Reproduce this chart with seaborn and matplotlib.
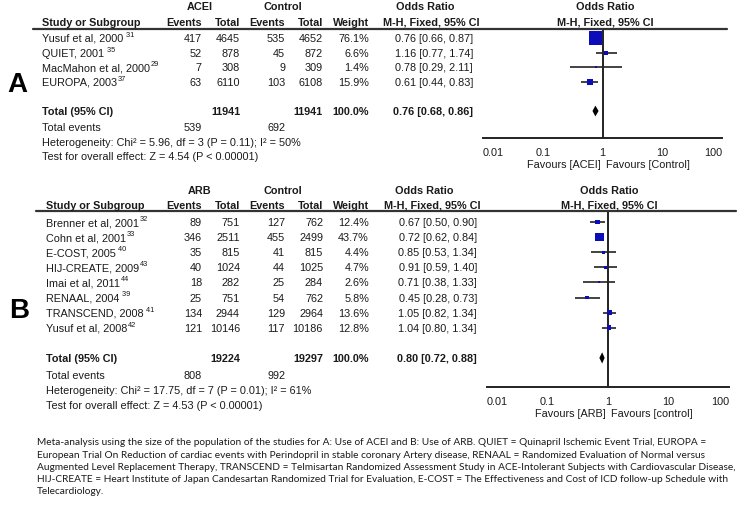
import numpy as np
import pandas as pd
import seaborn as sns
import matplotlib.pyplot as plt

sns.set_theme(style='white')
plt.rcParams['font.family'] = ['Liberation Sans', 'DejaVu Sans']

# ---- data, panel A (ACEI) ----
studies_a = ['Yusuf et al, 2000', 'QUIET, 2001', 'MacMahon et al, 2000', 'EUROPA, 2003']
refs_a = [' 31', ' 35', '29', '37']
ev_acei = [417, 52, 7, 63]
tot_acei = [4645, 878, 308, 6110]
ev_ctrl_a = [535, 45, 9, 103]
tot_ctrl_a = [4652, 872, 309, 6108]
weight_a = [76.1, 6.6, 1.4, 15.9]
or_a = [0.76, 1.16, 0.78, 0.61]
lo_a = [0.66, 0.77, 0.29, 0.44]
hi_a = [0.87, 1.74, 2.11, 0.83]
pooled_a = [0.76, 0.68, 0.86]
totals_a = [11941, 11941, 539, 692]
het_a = 'Heterogeneity: Chi² = 5.96, df = 3 (P = 0.11); I² = 50%'
test_a = 'Test for overall effect: Z = 4.54 (P < 0.00001)'

# ---- data, panel B (ARB) ----
studies_b = ['Brenner et al, 2001', 'Cohn et al, 2001', 'E-COST, 2005', 'HIJ-CREATE, 2009',
             'Imai et al, 2011', 'RENAAL, 2004', 'TRANSCEND, 2008', 'Yusuf et al, 2008']
refs_b = ['32', '33', ' 40', '43', '44', ' 39', ' 41', '42']
ev_arb = [89, 346, 35, 40, 18, 25, 134, 121]
tot_arb = [751, 2511, 815, 1024, 282, 751, 2944, 10146]
ev_ctrl_b = [127, 455, 41, 44, 25, 54, 129, 117]
tot_ctrl_b = [762, 2499, 815, 1025, 284, 762, 2964, 10186]
weight_b = [12.4, 43.7, 4.4, 4.7, 2.6, 5.8, 13.6, 12.8]
or_b = [0.67, 0.72, 0.85, 0.91, 0.71, 0.45, 1.05, 1.04]
lo_b = [0.50, 0.62, 0.53, 0.59, 0.38, 0.28, 0.82, 0.80]
hi_b = [0.90, 0.84, 1.34, 1.40, 1.33, 0.73, 1.34, 1.34]
pooled_b = [0.80, 0.72, 0.88]
totals_b = [19224, 19297, 808, 992]
het_b = 'Heterogeneity: Chi² = 17.75, df = 7 (P = 0.01); I² = 61%'
test_b = 'Test for overall effect: Z = 4.53 (P < 0.00001)'

ticks = [0.01, 0.1, 1, 10, 100]
tick_labels = ['0.01', '0.1', '1', '10', '100']

caption = [
    'Meta-analysis using the size of the population of the studies for A: Use of ACEI and B: Use of ARB. QUIET = Quinapril Ischemic Event Trial, EUROPA =',
    'European Trial On Reduction of cardiac events with Perindopril in stable coronary Artery disease, RENAAL = Randomized Evaluation of Normal versus',
    'Augmented Level Replacement Therapy, TRANSCEND = Telmisartan Randomized Assessment Study in ACE-Intolerant Subjects with Cardiovascular Disease,',
    'HIJ-CREATE = Heart Institute of Japan Candesartan Randomized Trial for Evaluation, E-COST = The Effectiveness and Cost of ICD follow-up Schedule with',
    'Telecardiology.',
]

W, H = 744, 510
fig = plt.figure(figsize=(W / 100, H / 100), dpi=100)
TC = '#1a1a1a'
FS = 7.8
BLUE = '#0c0cb8'


def ft(x, y, s, **kw):
    kw.setdefault('fontsize', FS)
    kw.setdefault('color', TC)
    kw.setdefault('va', 'center')
    return fig.text(x / W, 1 - y / H, s, **kw)


def panel(letter, lx, ly, grp, names, refs, ev1, tot1, ev2, tot2, wt, est, lo, hi,
          pooled, totals, het, test, fav, y_grp, y_hdr, y_line, line_x, row0, step,
          name_x, or_right, ax_x, ax_y1, orh_c, fh_c):
    ft(lx, ly, letter, fontsize=20, fontweight='bold', ha='center', color='black')
    # column headers
    ft(200, y_grp, grp, fontweight='bold', ha='center')
    ft(283, y_grp, 'Control', fontweight='bold', ha='center')
    ft(name_x, y_hdr, 'Study or Subgroup', fontweight='bold', ha='left')
    for xr, s in zip([202, 240, 285, 323, 369], ['Events', 'Total', 'Events', 'Total', 'Weight']):
        ft(xr, y_hdr, s, fontweight='bold', ha='right')
    ft(orh_c[0], y_grp, 'Odds Ratio', fontweight='bold', ha='center')
    ft(orh_c[1], y_hdr, 'M-H, Fixed, 95% CI', fontweight='bold', ha='center')
    ft(fh_c, y_grp, 'Odds Ratio', fontweight='bold', ha='center')
    ft(fh_c, y_hdr, 'M-H, Fixed, 95% CI', fontweight='bold', ha='center')
    fig.add_artist(plt.Line2D([line_x[0] / W, line_x[1] / W], [1 - y_line / H] * 2,
                              color='#333333', lw=1.6))

    # study rows
    n = len(names)
    for i in range(n):
        y = row0 + i * step
        t = ft(name_x, y, names[i], ha='left')
        fig.add_artist(plt.Annotation(refs[i], xy=(1, 0.85), xycoords=t,
                                      xytext=(0.3, 0), textcoords='offset points',
                                      fontsize=5.3, color=TC, va='center', ha='left'))
        ft(202, y, str(ev1[i]), ha='right')
        ft(240, y, str(tot1[i]), ha='right')
        ft(285, y, str(ev2[i]), ha='right')
        ft(323, y, str(tot2[i]), ha='right')
        ft(369, y, f'{wt[i]:.1f}%', ha='right')
        ft(or_right, y, f'{est[i]:.2f} [{lo[i]:.2f}, {hi[i]:.2f}]', ha='right')

    yt = row0 + (n + 1) * step
    ft(name_x, yt, 'Total (95% CI)', fontweight='bold', ha='left')
    ft(240, yt, str(totals[0]), fontweight='bold', ha='right')
    ft(323, yt, str(totals[1]), fontweight='bold', ha='right')
    ft(369, yt, '100.0%', fontweight='bold', ha='right')
    ft(or_right, yt, f'{pooled[0]:.2f} [{pooled[1]:.2f}, {pooled[2]:.2f}]', fontweight='bold', ha='right')
    ye = yt + 1.1 * step
    ft(name_x, ye, 'Total events', ha='left')
    ft(202, ye, str(totals[2]), ha='right')
    ft(285, ye, str(totals[3]), ha='right')
    ft(name_x, ye + step, het, ha='left')
    ft(name_x, ye + 2 * step, test, ha='left')

    # forest plot axes
    def row_of(py):
        return (py - row0) / step
    ax = fig.add_axes([ax_x[0] / W, 1 - ax_y1 / H, (ax_x[1] - ax_x[0]) / W, (ax_y1 - y_line) / H])
    ax.set_xscale('log')
    ax.set_xlim(0.01, 100)
    ax.set_ylim(row_of(ax_y1), row_of(y_line))
    ax.patch.set_alpha(0)
    for s in ['top', 'left', 'right']:
        ax.spines[s].set_visible(False)
    ax.spines['bottom'].set_color('#222222')
    ax.spines['bottom'].set_linewidth(1.4)
    ax.axvline(1, color='#222222', lw=1.4, zorder=1)

    df = pd.DataFrame({'est': est, 'row': np.arange(n), 'w': wt})
    ax.hlines(df['row'], lo, hi, color='#222222', lw=1.2, zorder=2)
    sns.scatterplot(data=df, x='est', y='row', size='w', size_norm=(0, max(wt)),
                    sizes=(0, 95 if max(wt) > 60 else 40), marker='s', color=BLUE,
                    linewidth=0, legend=False, ax=ax, zorder=3)
    r = n + 1
    hd = 0.37
    ax.fill([pooled[1], pooled[0], pooled[2], pooled[0]], [r, r - hd, r, r + hd],
            color='black', lw=0, zorder=4)

    ax.set_xticks(ticks)
    ax.set_xticklabels(tick_labels)
    ax.minorticks_off()
    ax.set_yticks([])
    ax.set_xlabel('')
    ax.set_ylabel('')
    ax.tick_params(axis='x', direction='inout', length=7, width=1.3, color='#222222',
                   labelsize=FS, labelcolor=TC, pad=3)
    labs = ax.get_xticklabels()
    labs[0].set_ha('left')
    labs[-1].set_ha('right')
    ax.annotate(f'Favours [{fav[0]}]', xy=(1, 0), xycoords=('data', 'axes fraction'),
                xytext=(-1.5, -19), textcoords='offset points', ha='right', va='center',
                fontsize=FS, color=TC)
    ax.annotate(f'Favours [{fav[1]}]', xy=(1, 0), xycoords=('data', 'axes fraction'),
                xytext=(2.5, -19), textcoords='offset points', ha='left', va='center',
                fontsize=FS, color=TC)
    ax.grid(False)


panel('A', 17, 85, 'ACEI', studies_a, refs_a, ev_acei, tot_acei, ev_ctrl_a, tot_ctrl_a,
      weight_a, or_a, lo_a, hi_a, pooled_a, totals_a, het_a, test_a, ('ACEI', 'Control'),
      y_grp=7, y_hdr=22.5, y_line=30, line_x=(33, 727), row0=39, step=14.6,
      name_x=42, or_right=473, ax_x=(483, 722), ax_y1=139, orh_c=(425, 431), fh_c=605)

panel('B', 19, 311, 'ARB', studies_b, refs_b, ev_arb, tot_arb, ev_ctrl_b, tot_ctrl_b,
      weight_b, or_b, lo_b, hi_b, pooled_b, totals_b, het_b, test_b, ('ARB', 'control'),
      y_grp=191, y_hdr=206, y_line=212, line_x=(36, 736), row0=223, step=15.1,
      name_x=46, or_right=477, ax_x=(487, 729), ax_y1=388, orh_c=(424, 432), fh_c=609)

# caption, size fitted so the widest line spans the text block
cap_fam = ['Liberation Sans Narrow', 'Lato', 'DejaVu Sans']
rend = fig.canvas.get_renderer()
widths = []
for line in caption[:4]:
    probe = ft(37, 443, line, fontsize=7, family=cap_fam, ha='left')
    widths.append(probe.get_window_extent(rend).width)
    probe.remove()
cap_fs = 7 * 695 / max(widths)
for i, line in enumerate(caption):
    ft(37, 443 + i * 12.1, line, fontsize=cap_fs, family=cap_fam, ha='left')

fig.savefig('out.png', dpi=100, facecolor='white')
